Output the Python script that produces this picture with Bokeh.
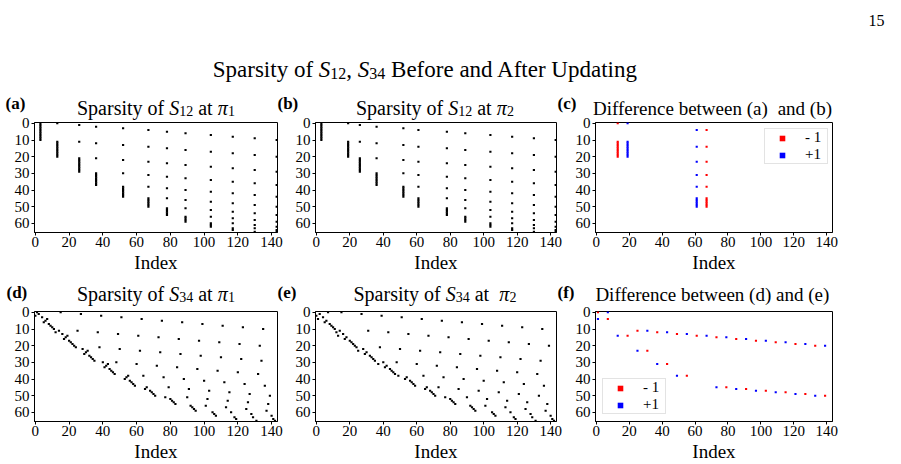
from bokeh.plotting import figure
from bokeh.models import Range1d, FixedTicker, Label, Legend, LegendItem, ColumnDataSource
from bokeh.layouts import column, row
from bokeh.embed import file_html
from bokeh.resources import INLINE

SERIF = "Liberation Serif"

# ---------------- data ----------------
# each matrix row is one pair (i, j) of 12 groups; every row has two nonzeros
pair_row = list(range(66))
x_ticks = [0, 20, 40, 60, 80, 100, 120, 140]
y_ticks = [0, 10, 20, 30, 40, 50, 60]

s12_pi1_a = [3, 3, 3, 3, 3, 3, 3, 3, 3, 3, 3,
             13, 13, 13, 13, 13, 13, 13, 13, 13, 13,
             26, 26, 26, 26, 26, 26, 26, 26, 26,
             36, 36, 36, 36, 36, 36, 36, 36,
             52, 52, 52, 52, 52, 52, 52,
             67, 67, 67, 67, 67, 67,
             78, 78, 78, 78, 78,
             89, 89, 89, 89,
             104, 104, 104,
             117, 117,
             130]
s12_pi1_b = [13, 26, 36, 52, 67, 78, 89, 104, 117, 130, 143,
             26, 36, 52, 67, 78, 89, 104, 117, 130, 143,
             36, 52, 67, 78, 89, 104, 117, 130, 143,
             52, 67, 78, 89, 104, 117, 130, 143,
             67, 78, 89, 104, 117, 130, 143,
             78, 89, 104, 117, 130, 143,
             89, 104, 117, 130, 143,
             104, 117, 130, 143,
             117, 130, 143,
             130, 143,
             143]
s12_pi2_a = [3, 3, 3, 3, 3, 3, 3, 3, 3, 3, 3,
             19, 19, 19, 19, 19, 19, 19, 19, 19, 19,
             26, 26, 26, 26, 26, 26, 26, 26, 26,
             36, 36, 36, 36, 36, 36, 36, 36,
             52, 52, 52, 52, 52, 52, 52,
             61, 61, 61, 61, 61, 61,
             78, 78, 78, 78, 78,
             89, 89, 89, 89,
             104, 104, 104,
             117, 117,
             130]
s12_pi2_b = [19, 26, 36, 52, 61, 78, 89, 104, 117, 130, 143,
             26, 36, 52, 61, 78, 89, 104, 117, 130, 143,
             36, 52, 61, 78, 89, 104, 117, 130, 143,
             52, 61, 78, 89, 104, 117, 130, 143,
             61, 78, 89, 104, 117, 130, 143,
             78, 89, 104, 117, 130, 143,
             89, 104, 117, 130, 143,
             104, 117, 130, 143,
             117, 130, 143,
             130, 143,
             143]

s34_pi1_a = [1, 2, 0, 4, 7, 6, 5, 8, 9, 10, 11,
             14, 12, 16, 19, 18, 17, 20, 21, 22, 23,
             24, 28, 31, 30, 29, 32, 33, 34, 35,
             40, 43, 42, 41, 44, 45, 46, 47,
             55, 54, 53, 56, 57, 58, 59,
             66, 65, 68, 69, 70, 71,
             77, 80, 81, 82, 83,
             92, 93, 94, 95,
             105, 106, 107,
             118, 119,
             131]
s34_pi1_b = [15, 27, 39, 51, 63, 75, 87, 99, 111, 123, 135,
             25, 37, 49, 61, 73, 85, 97, 109, 121, 133,
             38, 50, 62, 74, 86, 98, 110, 122, 134,
             48, 60, 72, 84, 96, 108, 120, 132,
             64, 76, 88, 100, 112, 124, 136,
             79, 91, 103, 115, 127, 139,
             90, 102, 114, 126, 138,
             101, 113, 125, 137,
             116, 128, 140,
             129, 141,
             142]
s34_pi2_a = [7, 2, 0, 4, 1, 6, 5, 8, 9, 10, 11,
             14, 12, 16, 13, 18, 17, 20, 21, 22, 23,
             24, 28, 25, 30, 29, 32, 33, 34, 35,
             40, 37, 42, 41, 44, 45, 46, 47,
             49, 54, 53, 56, 57, 58, 59,
             66, 65, 68, 69, 70, 71,
             77, 80, 81, 82, 83,
             92, 93, 94, 95,
             105, 106, 107,
             118, 119,
             131]
s34_pi2_b = [15, 27, 39, 51, 63, 75, 87, 99, 111, 123, 135,
             31, 43, 55, 67, 79, 91, 103, 115, 127, 139,
             38, 50, 62, 74, 86, 98, 110, 122, 134,
             48, 60, 72, 84, 96, 108, 120, 132,
             64, 76, 88, 100, 112, 124, 136,
             73, 85, 97, 109, 121, 133,
             90, 102, 114, 126, 138,
             101, 113, 125, 137,
             116, 128, 140,
             129, 141,
             142]

# differences: "- 1" (red) only before updating, "+1" (blue) only after
d12_minus_rows = [0, 11, 12, 13, 14, 15, 16, 17, 18, 19, 20, 4, 14, 23, 31, 38, 45, 46, 47, 48, 49, 50]
d12_minus_cols = [13, 13, 13, 13, 13, 13, 13, 13, 13, 13, 13, 67, 67, 67, 67, 67, 67, 67, 67, 67, 67, 67]
d12_plus_rows = [0, 11, 12, 13, 14, 15, 16, 17, 18, 19, 20, 4, 14, 23, 31, 38, 45, 46, 47, 48, 49, 50]
d12_plus_cols = [19, 19, 19, 19, 19, 19, 19, 19, 19, 19, 19, 61, 61, 61, 61, 61, 61, 61, 61, 61, 61, 61]

d34_minus_rows = [0, 4, 11, 12, 13, 14, 14, 15, 16, 17, 18, 19, 20, 23, 31, 38, 45, 46, 47, 48, 49, 50]
d34_minus_cols = [1, 7, 25, 37, 49, 19, 61, 73, 85, 97, 109, 121, 133, 31, 43, 55, 79, 91, 103, 115, 127, 139]
d34_plus_rows = [0, 4, 11, 12, 13, 14, 14, 15, 16, 17, 18, 19, 20, 23, 31, 38, 45, 46, 47, 48, 49, 50]
d34_plus_cols = [7, 1, 31, 43, 55, 13, 67, 79, 91, 103, 115, 127, 139, 25, 37, 49, 73, 85, 97, 109, 121, 133]

# ---------------- text helpers ----------------
TW = {' ': 250, '(': 333, ')': 333, ',': 250, '-': 333, '+': 564,
      'A': 722, 'B': 667, 'D': 722, 'I': 333, 'S': 556, 'U': 722,
      'a': 444, 'b': 500, 'c': 444, 'd': 500, 'e': 444, 'f': 333, 'g': 500,
      'i': 278, 'n': 500, 'o': 500, 'p': 500, 'r': 333, 's': 389, 't': 278,
      'w': 722, 'x': 500, 'y': 500}
TWI = {'S': 500, 'π': 520}
TWB = {'(': 333, ')': 333, 'a': 500, 'b': 556, 'c': 444, 'd': 556, 'e': 444, 'f': 333}


def text_w(s, size, style):
    tab = TWI if style == "italic" else (TWB if style == "bold" else TW)
    return sum(tab.get(ch, TW.get(ch, 500)) for ch in s) * size / 1000.0


def add_rich(p, x, y, segs, align="center", base=None):
    """Place mixed-style text; x, y = anchor/baseline in strip pixels."""
    total = sum(text_w(t, sz, st) for t, sz, st, dy in segs)
    cur = -total / 2.0 if align == "center" else 0.0
    main = base if base is not None else segs[0][1]
    for t, sz, st, dy in segs:
        lead = len(t) - len(t.lstrip(' '))
        s = t.strip(' ')
        if s:
            p.add_layout(Label(x=x, y=y, x_offset=cur + lead * 250 * sz / 1000.0,
                               y_offset=dy + 0.25 * main, text=s, text_font=SERIF,
                               text_font_size=f"{sz}px", text_font_style=st,
                               text_baseline="alphabetic", text_align="left",
                               text_color="black"))
        cur += text_w(t, sz, st)


def make_strip(height):
    s = figure(width=901, height=height, x_range=Range1d(0, 901), y_range=Range1d(height, 0),
               output_backend="svg", toolbar_location=None, title=None,
               x_axis_location=None, y_axis_location=None, min_border=0)
    s.grid.visible = False
    s.outline_line_color = None
    s.background_fill_color = "white"
    s.border_fill_color = "white"
    return s


# ---------------- panels ----------------
def make_panel(width, height, bl, br, bt, bb):
    p = figure(width=width, height=height, title=None,
               x_range=Range1d(-0.5, 143.5), y_range=Range1d(65.5, -0.5),
               output_backend="svg", toolbar_location=None,
               min_border_left=bl, min_border_right=br,
               min_border_top=bt, min_border_bottom=bb)
    p.grid.visible = False
    p.outline_line_color = "black"
    p.outline_line_width = 1
    p.outline_line_alpha = 1
    p.background_fill_color = "white"
    p.border_fill_color = "white"
    p.border_fill_alpha = 0.0   # lets the title strip above show through the overlap
    p.xaxis.ticker = FixedTicker(ticks=x_ticks)
    p.yaxis.ticker = FixedTicker(ticks=y_ticks)
    for ax in (p.xaxis[0], p.yaxis[0]):
        ax.axis_line_color = "black"
        ax.major_tick_line_color = "black"
        ax.major_tick_out = 3
        ax.major_tick_in = 0
        ax.minor_tick_line_color = None
        ax.major_label_text_font = SERIF
        ax.major_label_text_font_size = "15px"
        ax.major_label_text_color = "black"
    p.yaxis.major_label_standoff = 2
    p.xaxis.major_label_standoff = 1
    p.xaxis.axis_label = "Index"
    p.xaxis.axis_label_text_font = SERIF
    p.xaxis.axis_label_text_font_size = "19px"
    p.xaxis.axis_label_text_font_style = "normal"
    p.xaxis.axis_label_text_color = "black"
    p.xaxis.axis_label_standoff = 2
    return p


def spy(p, cols_a, cols_b, color="black"):
    src = ColumnDataSource(dict(col=cols_a + cols_b, row=pair_row + pair_row))
    p.rect(x="col", y="row", width=1.3, height=1.2, source=src,
           fill_color=color, line_color=None)


def diff(p, mr, mc, pr, pc, loc):
    p.rect(x=mc, y=mr, width=1.3, height=1.2, fill_color="#ff0000", line_color=None)
    p.rect(x=pc, y=pr, width=1.3, height=1.2, fill_color="#0000ff", line_color=None)
    # legend swatches (their single point lies outside the visible range)
    lr = p.scatter(x=[-50], y=[-50], marker="square", size=6, fill_color="#ff0000", line_color=None)
    lb = p.scatter(x=[-50], y=[-50], marker="square", size=6, fill_color="#0000ff", line_color=None)
    leg = Legend(items=[LegendItem(label="- 1", renderers=[lr]),
                        LegendItem(label="+1", renderers=[lb])],
                 location=loc, margin=0, padding=0, spacing=0,
                 glyph_width=34, glyph_height=14, label_standoff=6,
                 label_width=22, label_height=14,
                 label_text_font=SERIF, label_text_font_size="15px",
                 label_text_color="black",
                 border_line_color="#c8c8c8", border_line_width=1,
                 background_fill_color="white", background_fill_alpha=0.8)
    p.add_layout(leg)


def title_segs(sub, pi, gap=" at "):
    return [("Sparsity of ", 20, "normal", 0), ("S", 20, "italic", 0),
            (sub, 14, "normal", -3), (gap, 20, "normal", 0),
            ("π", 20, "italic", 0), (pi, 14, "normal", -3)]


# row 1 panels (page y 113..276, frames at y 122..232)
pa = make_panel(292, 163, 34, 15, 9, 44)
pb = make_panel(280, 163, 21, 16, 9, 44)
pc = make_panel(329, 163, 20, 69, 9, 44)
# row 2 panels (page y 302..464, frames at y 311..421)
pd = make_panel(292, 162, 34, 15, 9, 43)
pe = make_panel(280, 162, 21, 16, 9, 43)
pf = make_panel(329, 162, 20, 69, 9, 43)

spy(pa, s12_pi1_a, s12_pi1_b)
spy(pb, s12_pi2_a, s12_pi2_b)
diff(pc, d12_minus_rows, d12_minus_cols, d12_plus_rows, d12_plus_cols, (169, 68))
spy(pd, s34_pi1_a, s34_pi1_b)
spy(pe, s34_pi2_a, s34_pi2_b)
diff(pf, d34_minus_rows, d34_minus_cols, d34_plus_rows, d34_plus_cols, (7, 7))

# strip 1: page number, main title, row-1 titles and panel letters (page y 0..122)
s1 = make_strip(122)
add_rich(s1, 425, 75, [("Sparsity of ", 23, "normal", 0), ("S", 23, "italic", 0),
                       ("12", 16, "normal", -3.5), (", ", 23, "normal", 0),
                       ("S", 23, "italic", 0), ("34", 16, "normal", -3.5),
                       (" Before and After Updating", 23, "normal", 0)])
add_rich(s1, 868, 24, [("15", 16, "normal", 0)], align="left")
add_rich(s1, 155.5, 112.5, title_segs("12", "1"))
add_rich(s1, 434.5, 112.5, title_segs("12", "2"))
add_rich(s1, 712, 112.5, [("Difference between (a)", 19, "normal", 0),
                          ("  and (b)", 19, "normal", 0)])
add_rich(s1, 5, 107, [("(a)", 17, "bold", 0)], align="left")
add_rich(s1, 277, 107, [("(b)", 17, "bold", 0)], align="left")
add_rich(s1, 557, 107, [("(c)", 17, "bold", 0)], align="left")

# strip 2: row-2 titles and panel letters (page y 276..311)
s2 = make_strip(35)
add_rich(s2, 155.5, 22.5, title_segs("34", "1"))
add_rich(s2, 434.5, 22.5, title_segs("34", "2", gap=" at  "))
add_rich(s2, 712, 22.5, [("Difference between (d) and (e)", 19, "normal", 0)])
add_rich(s2, 6, 20, [("(d)", 17, "bold", 0)], align="left")
add_rich(s2, 277, 20, [("(e)", 17, "bold", 0)], align="left")
add_rich(s2, 557, 20, [("(f)", 17, "bold", 0)], align="left")

row1 = row(pa, pb, pc, margin=(-9, 0, 0, 0))
row2 = row(pd, pe, pf, margin=(-9, 0, 0, 0))
layout = column(s1, row1, s2, row2)
open("out.html", "w").write(file_html(layout, INLINE))
